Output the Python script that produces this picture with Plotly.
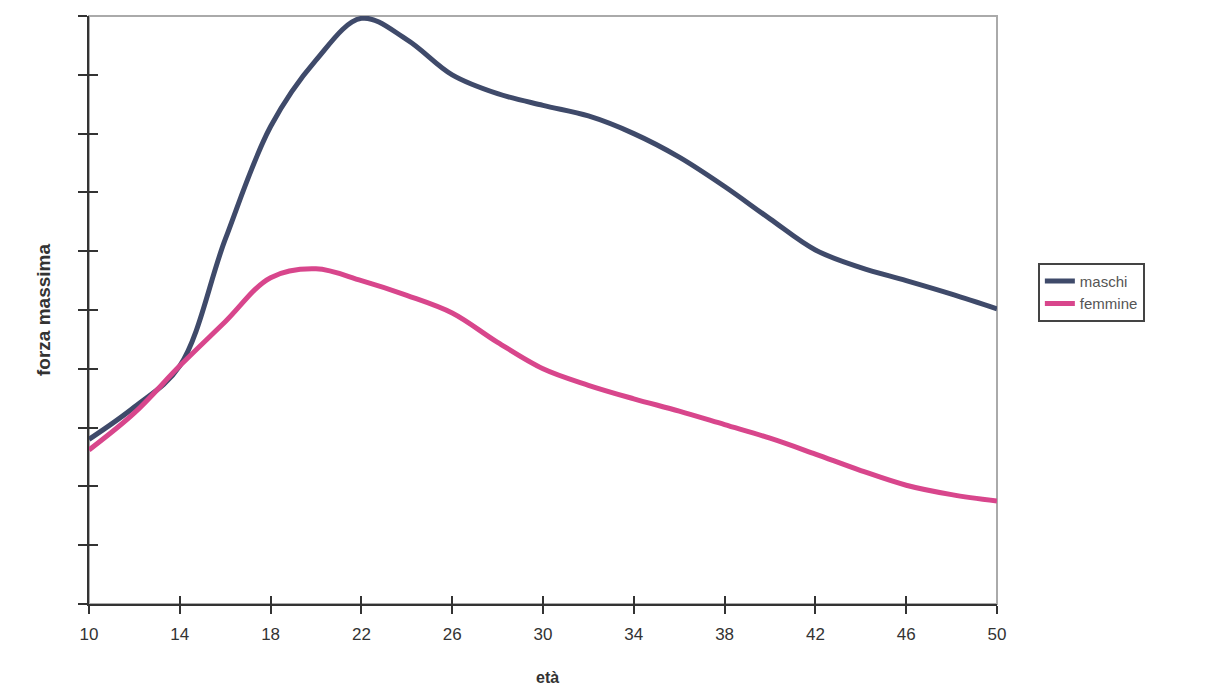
import plotly.graph_objects as go

eta = [10, 12, 14, 16, 18, 20, 22, 24, 26, 28, 30, 32, 34, 36, 38, 40, 42, 44, 46, 48, 50]
maschi = [2.8, 3.35, 4.05, 6.2, 8.12, 9.25, 9.96, 9.6, 9.0, 8.68, 8.48, 8.3, 8.0, 7.6, 7.1, 6.55, 6.02, 5.72, 5.5, 5.27, 5.02]
femmine = [2.62, 3.25, 4.05, 4.8, 5.55, 5.7, 5.5, 5.25, 4.95, 4.45, 4.0, 3.72, 3.49, 3.28, 3.05, 2.82, 2.55, 2.27, 2.02, 1.86, 1.75]
x_ticks = [10, 14, 18, 22, 26, 30, 34, 38, 42, 46, 50]
y_ticks = list(range(0, 11))

fig = go.Figure()
fig.add_trace(go.Scatter(x=eta, y=maschi, mode="lines", name="maschi",
                         line=dict(color="#3f4a6a", width=5, shape="spline", smoothing=1.0)))
fig.add_trace(go.Scatter(x=eta, y=femmine, mode="lines", name="femmine",
                         line=dict(color="#d8468c", width=5, shape="spline", smoothing=1.0)))
# empty helper trace so the overlaid axes (inner half of the crossing ticks) are drawn
fig.add_trace(go.Scatter(x=[], y=[], xaxis="x2", yaxis="y2", showlegend=False, hoverinfo="skip"))

FONT = "Liberation Sans, Arial, sans-serif"
axis_font = dict(family=FONT, size=17, color="#333333")

fig.update_layout(
    width=1207, height=691,
    margin=dict(l=81, r=218, t=8, b=95, autoexpand=False),
    paper_bgcolor="white", plot_bgcolor="white",
    showlegend=True,
    legend=dict(x=1.045, y=0.53, xanchor="left", yanchor="middle",
                bordercolor="#444444", borderwidth=2, bgcolor="white",
                font=dict(family=FONT, size=15, color="#555555"),
                tracegroupgap=2),
    xaxis=dict(range=[10, 50], tickmode="array", tickvals=x_ticks, ticktext=[str(v) for v in x_ticks],
               showgrid=False, zeroline=False, showline=True, linecolor="#333333", linewidth=2,
               ticks="outside", ticklen=8, tickwidth=2, tickcolor="#333333",
               tickfont=axis_font, ticklabelstandoff=6, automargin=False),
    yaxis=dict(range=[0, 10], tickmode="array", tickvals=y_ticks, showticklabels=False,
               showgrid=False, zeroline=False, showline=True, linecolor="#333333", linewidth=2,
               ticks="outside", ticklen=9, tickwidth=2, tickcolor="#333333", automargin=False,
               title=dict(text="<b>forza massima</b>", standoff=22,
                          font=dict(family=FONT, size=19, color="#333333"))),
    xaxis2=dict(overlaying="x", anchor="y2", side="bottom", range=[10, 50], tickmode="array",
                tickvals=x_ticks, showticklabels=False, showgrid=False, zeroline=False,
                ticks="inside", ticklen=8, tickwidth=2, tickcolor="#333333", automargin=False),
    yaxis2=dict(overlaying="y", anchor="x2", side="left", range=[0, 10], tickmode="array",
                tickvals=y_ticks, showticklabels=False, showgrid=False, zeroline=False,
                ticks="inside", ticklen=9, tickwidth=2, tickcolor="#333333", automargin=False),
    shapes=[dict(type="rect", xref="paper", yref="paper", x0=0, y0=0, x1=1, y1=1,
                 line=dict(color="#aaaaaa", width=2), layer="below")],
    annotations=[dict(text="<b>età</b>", xref="paper", yref="paper", x=0.505, y=-0.125,
                      xanchor="center", yanchor="middle", showarrow=False,
                      font=dict(family=FONT, size=16, color="#333333"))],
)

fig.write_html("out.html")
